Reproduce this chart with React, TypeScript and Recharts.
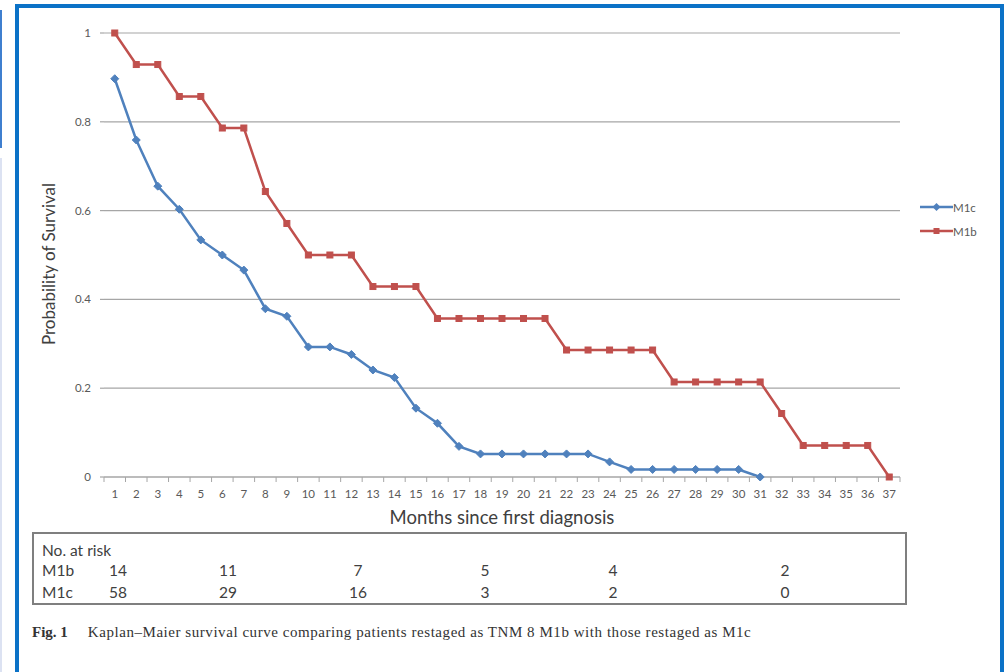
import React from 'react';
import { LineChart, Line, XAxis, YAxis, CartesianGrid, Legend } from 'recharts';

const months = [1, 2, 3, 4, 5, 6, 7, 8, 9, 10, 11, 12, 13, 14, 15, 16, 17, 18, 19, 20, 21, 22, 23, 24, 25, 26, 27, 28, 29, 30, 31, 32, 33, 34, 35, 36, 37];
const m1b = [1, 0.929, 0.929, 0.857, 0.857, 0.786, 0.786, 0.643, 0.571, 0.5, 0.5, 0.5, 0.429, 0.429, 0.429, 0.357, 0.357, 0.357, 0.357, 0.357, 0.357, 0.286, 0.286, 0.286, 0.286, 0.286, 0.214, 0.214, 0.214, 0.214, 0.214, 0.143, 0.071, 0.071, 0.071, 0.071, 0];
const m1c = [0.897, 0.759, 0.655, 0.603, 0.534, 0.5, 0.466, 0.379, 0.362, 0.293, 0.293, 0.276, 0.241, 0.224, 0.155, 0.121, 0.069, 0.052, 0.052, 0.052, 0.052, 0.052, 0.052, 0.034, 0.017, 0.017, 0.017, 0.017, 0.017, 0.017, 0, null, null, null, null, null, null];
const yTicks = [0, 0.2, 0.4, 0.6, 0.8, 1];
const riskLabels = ['M1b', 'M1c'];
const riskM1b = ['14', '11', '7', '5', '4', '2'];
const riskM1c = ['58', '29', '16', '3', '2', '0'];

const data = months.map((m, i) => ({ month: m, M1b: m1b[i], M1c: m1c[i] }));

const RED = '#C0504D';
const BLUE = '#4F81BD';
const GRID = '#A6A6A6';
const SANS = 'Lato, "Open Sans", sans-serif';
const riskColX = [118, 228, 358, 485, 613, 785];

const XTick = (props: any) => {
  const { x, y, payload } = props;
  const half = payload && typeof payload.offset === 'number' && payload.offset > 0 ? payload.offset : 10.75;
  const axisY = y - 13;
  const last = payload.value === months[months.length - 1];
  return (
    <g>
      <line x1={x - half} x2={x - half} y1={axisY} y2={axisY + 5} stroke={GRID} strokeWidth={1} />
      {last && <line x1={x + half} x2={x + half} y1={axisY} y2={axisY + 5} stroke={GRID} strokeWidth={1} />}
      <text x={x} y={y} dy="0.71em" textAnchor="middle" fill="#595959" fontSize={11.5} fontFamily={SANS}>
        {payload.value}
      </text>
    </g>
  );
};

const SquareDot = (props: any) => {
  const { cx, cy, index } = props;
  if (cx == null || cy == null) return <g key={`s${index}`} />;
  return <rect key={`s${index}`} x={cx - 3} y={cy - 3} width={6} height={6} fill={RED} stroke={RED} />;
};

const DiamondDot = (props: any) => {
  const { cx, cy, index } = props;
  if (cx == null || cy == null) return <g key={`d${index}`} />;
  const r = 4;
  return <path key={`d${index}`} d={`M${cx},${cy - r}L${cx + r},${cy}L${cx},${cy + r}L${cx - r},${cy}Z`} fill={BLUE} stroke={BLUE} />;
};

const LegendContent = (props: any) => {
  const items = (props.payload || []).slice().sort((a: any, b: any) => (a.value === 'M1c' ? -1 : 1));
  return (
    <div>
      {items.map((it: any) => (
        <div key={it.value} style={{ display: 'flex', alignItems: 'center', height: 24 }}>
          <svg width={33} height={10} style={{ display: 'block' }}>
            <line x1={0} x2={33} y1={5} y2={5} stroke={it.color} strokeWidth={2.5} />
            {it.value === 'M1c' ? (
              <path d="M16.5,1L20.5,5L16.5,9L12.5,5Z" fill={it.color} />
            ) : (
              <rect x={13.5} y={2} width={6} height={6} fill={it.color} />
            )}
          </svg>
          <span style={{ fontFamily: SANS, fontSize: 11.5, color: '#595959', marginLeft: 0 }}>{it.value}</span>
        </div>
      ))}
    </div>
  );
};

const YLabel = (props: any) => {
  const vb = props.viewBox || { x: 30, y: 33, width: 74, height: 444 };
  const cx = vb.x + 18;
  const cy = vb.y + vb.height / 2 + 9;
  return (
    <text x={cx} y={cy} transform={`rotate(-90 ${cx} ${cy})`} textAnchor="middle" dominantBaseline="central" fill="#404040" fontSize={17} fontFamily={SANS}>
      Probability of Survival
    </text>
  );
};

export default function App() {
  return (
    <div style={{ position: 'absolute', left: 0, top: 0, width: 1006, height: 672, background: '#fff', overflow: 'hidden' }}>
      <div style={{ position: 'absolute', left: 0, top: 10, width: 2, height: 138, background: '#3F7FCF' }} />
      <div style={{ position: 'absolute', left: 0, top: 158, width: 2, height: 514, background: '#DCE2F2' }} />
      <div style={{ position: 'absolute', left: 15, top: 4, width: 981, height: 700, border: '4px solid #0B72C7', borderBottom: 'none', background: '#fff' }} />
      <div style={{ position: 'absolute', left: 0, top: 0 }}>
        <LineChart width={1006} height={530} data={data} margin={{ top: 33, right: 106, bottom: 5, left: 30 }}>
          <CartesianGrid horizontal vertical={false} stroke={GRID} strokeWidth={1.2} />
          <XAxis
            dataKey="month"
            scale="band"
            interval={0}
            height={48}
            tickSize={5}
            tickMargin={8}
            tickLine={false}
            axisLine={{ stroke: GRID, strokeWidth: 1.2 }}
            tick={<XTick />}
            label={{ value: 'Months since first diagnosis', position: 'insideBottom', offset: 1, fill: '#404040', fontSize: 18.5, fontFamily: SANS }}
          />
          <YAxis
            domain={[0, 1]}
            ticks={yTicks}
            width={74}
            tickSize={4}
            tickMargin={9}
            axisLine={false}
            tickLine={{ stroke: GRID, strokeWidth: 1.2 }}
            tick={{ fill: '#595959', fontSize: 11.5, fontFamily: SANS }}
            label={<YLabel />}
          />
          <Legend
            layout="horizontal"
            align="center"
            verticalAlign="middle"
            wrapperStyle={{ left: 920, top: 195, width: 80 }}
            content={<LegendContent />}
          />
          <Line dataKey="M1c" stroke={BLUE} strokeWidth={2.5} dot={DiamondDot} activeDot={false} isAnimationActive={false} />
          <Line dataKey="M1b" stroke={RED} strokeWidth={2.5} dot={SquareDot} activeDot={false} isAnimationActive={false} />
        </LineChart>
      </div>
      <div style={{ position: 'absolute', left: 32, top: 532, width: 871, height: 69, border: '2px solid #7F7F7F' }} />
      <div style={{ position: 'absolute', left: 42, top: 540, fontFamily: SANS, fontSize: 15.5, color: '#404040', lineHeight: '20px' }}>No. at risk</div>
      {[riskM1b, riskM1c].map((row, r) => (
        <React.Fragment key={r}>
          <div style={{ position: 'absolute', left: 42, top: 560 + r * 22, fontFamily: SANS, fontSize: 15.5, color: '#404040', lineHeight: '20px' }}>{riskLabels[r]}</div>
          {row.map((v, c) => (
            <div key={c} style={{ position: 'absolute', left: riskColX[c] - 20, width: 40, textAlign: 'center', top: 560 + r * 22, fontFamily: SANS, fontSize: 15.5, color: '#404040', lineHeight: '20px' }}>{v}</div>
          ))}
        </React.Fragment>
      ))}
      <div style={{ position: 'absolute', left: 32, top: 622, fontFamily: '"Liberation Serif", "DejaVu Serif", serif', fontSize: 15, color: '#333', whiteSpace: 'nowrap', lineHeight: '20px' }}>
        <b>Fig. 1</b>
        <span style={{ marginLeft: 20, letterSpacing: 0.55 }}>Kaplan–Maier survival curve comparing patients restaged as TNM 8 M1b with those restaged as M1c</span>
      </div>
    </div>
  );
}
